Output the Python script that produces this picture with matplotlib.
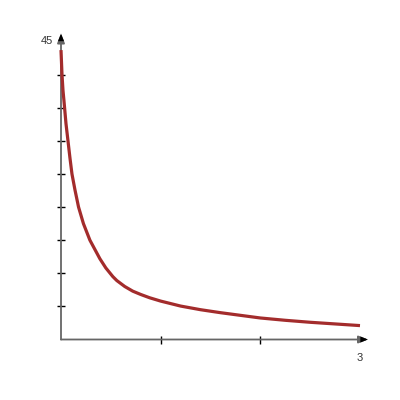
import matplotlib
matplotlib.use("Agg")
import matplotlib.pyplot as plt

# values
xs = [0.0, 0.01, 0.02, 0.03, 0.05, 0.07, 0.09, 0.11, 0.14, 0.176, 0.225, 0.29,
      0.34, 0.39, 0.45, 0.52, 0.56, 0.64, 0.72, 0.8, 0.89, 1.0, 1.2, 1.4, 1.6,
      1.8, 2.0, 2.25, 2.5, 2.75, 3.0]
ys = [43.7, 40.0, 37.6, 36.0, 32.6, 30.0, 27.4, 25.0, 22.6, 20.0, 17.5, 15.0,
      13.6, 12.2, 10.8, 9.5, 8.9, 8.0, 7.3, 6.8, 6.3, 5.8, 5.05, 4.5, 4.05,
      3.65, 3.25, 2.9, 2.6, 2.35, 2.1]

y_ticks = [5, 10, 15, 20, 25, 30, 35, 40]
x_ticks = [1, 2]
x_max, y_max = 3, 45

plt.rcParams['font.family'] = ['Liberation Sans', 'DejaVu Sans']

fig = plt.figure(figsize=(4, 4), dpi=100)
ax = fig.add_axes([61 / 400, 1 - 339.5 / 400, 299 / 400, 298 / 400])
ax.set_xlim(0, x_max)
ax.set_ylim(0, y_max)
for s in ax.spines.values():
    s.set_visible(False)

axis_col = '#666666'
arrow = dict(arrowstyle='-|>,head_length=0.55,head_width=0.22', color=axis_col, lw=1.3,
             shrinkA=0, shrinkB=0)
ax.annotate('', xy=(x_max + 0.08, 0), xytext=(0, 0), arrowprops=arrow, annotation_clip=False)
ax.annotate('', xy=(0, y_max + 1.2), xytext=(0, 0), arrowprops=arrow, annotation_clip=False)
# dark heads
head = dict(arrowstyle='-|>,head_length=0.55,head_width=0.22', color='black', lw=0,
            shrinkA=0, shrinkB=0)
ax.annotate('', xy=(x_max + 0.08, 0), xytext=(x_max - 0.01, 0), arrowprops=head, annotation_clip=False)
ax.annotate('', xy=(0, y_max + 1.2), xytext=(0, y_max - 0.1), arrowprops=head, annotation_clip=False)

ax.set_xticks(x_ticks)
ax.set_yticks(y_ticks)
ax.set_xticklabels([])
ax.set_yticklabels([])
ax.tick_params(direction='inout', length=6, width=1, color='black')

ax.plot(xs, ys, color='#a32c2c', lw=2.3, solid_capstyle='butt', solid_joinstyle='round',
        clip_on=False, zorder=3)

ax.text(-0.08, y_max, '45', ha='right', va='center', fontsize=8, color='#333333')
ax.text(x_max, -2.1, '3', ha='center', va='top', fontsize=8, color='#333333')

fig.savefig('out.png', dpi=100)
